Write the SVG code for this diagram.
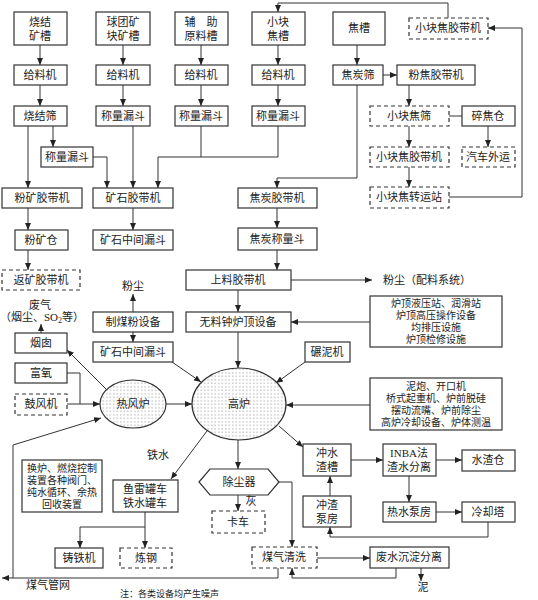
<svg xmlns="http://www.w3.org/2000/svg" width="538" height="600" viewBox="0 0 538 600">
<style>
.b{fill:#fff;stroke:#333;stroke-width:1.2}
.d{fill:#fff;stroke:#333;stroke-width:1.2;stroke-dasharray:4 3}
text{font-family:"Liberation Serif","Noto Sans CJK SC",serif;font-size:11px;fill:#222;text-anchor:middle}
.m{font-size:10px}
.s{font-size:9px;text-anchor:start}
.l{text-anchor:start}
.c path{fill:none;stroke:#333;stroke-width:1}
.c .a{marker-end:url(#ar)}
</style>
<defs>
<marker id="ar" markerWidth="7" markerHeight="6" refX="7" refY="3" orient="auto" markerUnits="userSpaceOnUse"><path d="M0,0 L7,3 L0,6 z" fill="#222"/></marker>
<pattern id="dots" width="3.5" height="3.5" patternUnits="userSpaceOnUse"><rect width="3.5" height="3.5" fill="#fff"/><circle cx="1.75" cy="1.75" r="0.5" fill="#444"/></pattern>
</defs>
<rect width="538" height="600" fill="#fff"/>
<g class="c">
<path class="a" d="M40 45V65"/><path class="a" d="M40 85V106"/>
<path class="a" d="M123 45V65"/><path class="a" d="M123 85V106"/>
<path class="a" d="M201 45V65"/><path class="a" d="M201 85V106"/>
<path class="a" d="M278 45V65"/><path class="a" d="M278 85V106"/>
<path class="a" d="M357 45V65"/>
<path class="a" d="M383 75H397"/>
<path class="a" d="M409 85V106"/>
<path d="M449 116H462"/>
<path class="a" d="M488 126V147"/>
<path class="a" d="M409 126V147"/>
<path class="a" d="M409 167V187"/>
<path class="a" d="M449 197H522V28H488"/>
<path class="a" d="M448 18V3H278V12"/>
<path class="a" d="M28 126V188"/>
<path class="a" d="M53 126V147"/>
<path class="a" d="M93 157H107V188"/>
<path class="a" d="M133 126V188"/>
<path d="M201 126V157"/>
<path class="a" d="M278 126V157H158V188"/>
<path class="a" d="M133 208V230"/>
<path class="a" d="M28 208V230"/>
<path class="a" d="M28 250V270"/>
<path class="a" d="M357 85V178H277V188"/>
<path class="a" d="M277 208V228"/>
<path class="a" d="M277 250V270"/>
<path class="a" d="M291 280H372"/>
<path class="a" d="M238 290V312"/>
<path class="a" d="M370 322H291"/>
<path class="a" d="M238 332V368"/>
<path class="a" d="M305 362L276 383"/>
<path class="a" d="M370 405H286"/>
<path class="a" d="M133 312V294"/>
<path class="a" d="M133 332V342"/>
<path class="a" d="M172 362L201 382"/>
<path class="a" d="M166 404H192"/>
<path class="a" d="M107 390L67 350"/>
<path class="a" d="M41 333V324"/>
<path d="M67 373H80V404"/>
<path class="a" d="M67 404H100"/>
<path class="a" d="M13 578V445L101 418"/>
<path class="a" d="M207 431L171 479"/>
<path class="a" d="M279 426L303 447"/>
<path class="a" d="M238 440V469"/>
<path class="a" d="M238 495V511"/>
<path class="a" d="M278 482H292V547"/>
<path class="a" d="M278 568V578H2"/>
<path class="a" d="M317 558H370"/>
<path class="a" d="M396 568V578H292V568"/>
<path class="a" d="M421 568V581"/>
<path class="a" d="M351 460H383"/>
<path class="a" d="M436 460H462"/>
<path class="a" d="M409 476V502"/>
<path class="a" d="M436 512H462"/>
<path class="a" d="M488 522V537H330V527"/>
<path class="a" d="M330 496V476"/>
<path class="a" d="M145 512V548"/>
<path class="a" d="M145 527H80V548"/>
</g>
<g id="n_sjkc"><rect class="b" x="14" y="12" width="53" height="33"/><text x="40" y="26">烧结</text><text x="40" y="40">矿槽</text></g>
<g id="n_qtk"><rect class="b" x="96" y="12" width="54" height="33"/><text x="123" y="26">球团矿</text><text x="123" y="40">块矿槽</text></g>
<g id="n_fzyl"><rect class="b" x="175" y="12" width="53" height="33"/><text x="201" y="26">辅　助</text><text x="201" y="40">原料槽</text></g>
<g id="n_xkjc"><rect class="b" x="252" y="12" width="53" height="33"/><text x="278" y="26">小块</text><text x="278" y="40">焦槽</text></g>
<g id="n_jc"><rect class="b" x="333" y="12" width="52" height="33"/><text x="359" y="32">焦槽</text></g>
<g id="n_xkjjdj1"><rect class="d" x="409" y="18" width="79" height="21"/><text x="448" y="32">小块焦胶带机</text></g>
<g id="n_glj1"><rect class="b" x="14" y="65" width="53" height="20"/><text x="40" y="79">给料机</text></g>
<g id="n_glj2"><rect class="b" x="96" y="65" width="54" height="20"/><text x="123" y="79">给料机</text></g>
<g id="n_glj3"><rect class="b" x="175" y="65" width="53" height="20"/><text x="201" y="79">给料机</text></g>
<g id="n_glj4"><rect class="b" x="252" y="65" width="53" height="20"/><text x="278" y="79">给料机</text></g>
<g id="n_jts"><rect class="b" x="333" y="65" width="50" height="20"/><text x="358" y="79">焦炭筛</text></g>
<g id="n_fjjdj"><rect class="b" x="397" y="65" width="78" height="20"/><text x="436" y="79">粉焦胶带机</text></g>
<g id="n_sjs"><rect class="b" x="14" y="106" width="53" height="20"/><text x="40" y="120">烧结筛</text></g>
<g id="n_clld2"><rect class="b" x="96" y="106" width="54" height="20"/><text x="123" y="120">称量漏斗</text></g>
<g id="n_clld3"><rect class="b" x="175" y="106" width="53" height="20"/><text x="201" y="120">称量漏斗</text></g>
<g id="n_clld4"><rect class="b" x="252" y="106" width="53" height="20"/><text x="278" y="120">称量漏斗</text></g>
<g id="n_xkjs"><rect class="d" x="370" y="106" width="79" height="20"/><text x="409" y="120">小块焦筛</text></g>
<g id="n_sjc"><rect class="b" x="462" y="106" width="53" height="20"/><text x="488" y="120">碎焦仓</text></g>
<g id="n_clld1"><rect class="b" x="41" y="147" width="52" height="20"/><text x="67" y="161">称量漏斗</text></g>
<g id="n_xkjjdj2"><rect class="d" x="370" y="147" width="79" height="20"/><text x="409" y="161">小块焦胶带机</text></g>
<g id="n_qcwy"><rect class="d" x="462" y="147" width="53" height="20"/><text x="488" y="161">汽车外运</text></g>
<g id="n_xkjzyz"><rect class="d" x="370" y="187" width="79" height="21"/><text x="409" y="201">小块焦转运站</text></g>
<g id="n_fkjdj"><rect class="b" x="2" y="188" width="80" height="20"/><text x="42" y="202">粉矿胶带机</text></g>
<g id="n_ksjdj"><rect class="b" x="93" y="188" width="80" height="20"/><text x="133" y="202">矿石胶带机</text></g>
<g id="n_jtjdj"><rect class="b" x="238" y="188" width="79" height="20"/><text x="277" y="202">焦炭胶带机</text></g>
<g id="n_fkc"><rect class="b" x="15" y="230" width="53" height="20"/><text x="41" y="244">粉矿仓</text></g>
<g id="n_kszjld1"><rect class="b" x="93" y="230" width="80" height="20"/><text x="133" y="244">矿石中间漏斗</text></g>
<g id="n_jtcld"><rect class="b" x="238" y="228" width="79" height="22"/><text x="277" y="243">焦炭称量斗</text></g>
<g id="n_fkjdj2"><rect class="d" x="2" y="270" width="78" height="20"/><text x="41" y="284">返矿胶带机</text></g>
<g id="n_sljdj"><rect class="b" x="186" y="270" width="105" height="20"/><text x="238" y="284">上料胶带机</text></g>
<g id="t_fc1"><text class="l" x="383" y="284">粉尘（配料系统）</text></g>
<g id="t_fc2"><text x="133" y="290">粉尘</text></g>
<g id="t_fq"><text x="40" y="309">废气</text><text x="42" y="321">（烟尘、SO<tspan font-size="8" dy="2">2</tspan><tspan dy="-2">等）</tspan></text></g>
<g id="n_zmf"><rect class="b" x="93" y="312" width="80" height="20"/><text x="133" y="326">制煤粉设备</text></g>
<g id="n_wlz"><rect class="b" x="186" y="312" width="105" height="20"/><text x="238" y="326">无料钟炉顶设备</text></g>
<g id="n_ldyy"><rect class="b" x="370" y="296" width="132" height="51"/><text class="m" x="436" y="307">炉顶液压站、润滑站</text><text class="m" x="436" y="319">炉顶高压操作设备</text><text class="m" x="436" y="331">均排压设施</text><text class="m" x="436" y="343">炉顶检修设施</text></g>
<g id="n_yc"><rect class="b" x="15" y="333" width="52" height="20"/><text x="41" y="347">烟囱</text></g>
<g id="n_kszjld2"><rect class="b" x="93" y="342" width="80" height="20"/><text x="133" y="356">矿石中间漏斗</text></g>
<g id="n_nnj"><rect class="b" x="305" y="342" width="45" height="20"/><text x="327" y="356">碾泥机</text></g>
<g id="n_fy"><rect class="b" x="15" y="363" width="52" height="20"/><text x="41" y="377">富氧</text></g>
<g id="n_np"><rect class="b" x="370" y="378" width="132" height="52"/><text class="m" x="436" y="390">泥炮、开口机</text><text class="m" x="436" y="402">桥式起重机、炉前脱硅</text><text class="m" x="436" y="414">摆动流嘴、炉前除尘</text><text class="m" x="436" y="426">高炉冷却设备、炉体测温</text></g>
<g id="n_gfj"><rect class="d" x="15" y="394" width="52" height="21"/><text x="41" y="408">鼓风机</text></g>
<g id="n_rfl"><ellipse cx="133" cy="404" rx="33" ry="24" fill="url(#dots)" stroke="#333" stroke-width="1.2"/><text x="133" y="408">热风炉</text></g>
<g id="n_gl"><ellipse cx="239" cy="404" rx="47" ry="36" fill="url(#dots)" stroke="#333" stroke-width="1.2"/><text x="239" y="408">高炉</text></g>
<g id="t_ts"><text x="158" y="459">铁水</text></g>
<g id="n_csc"><rect class="b" x="303" y="444" width="48" height="32"/><text x="327" y="457">冲水</text><text x="327" y="471">渣槽</text></g>
<g id="n_inba"><rect class="b" x="383" y="444" width="53" height="32"/><text x="409" y="457">INBA法</text><text x="409" y="471">渣水分离</text></g>
<g id="n_szc"><rect class="b" x="462" y="450" width="53" height="21"/><text x="488" y="464">水渣仓</text></g>
<g id="n_hl"><rect class="b" x="22" y="460" width="80" height="52"/><text class="m" x="62" y="472">换炉、燃烧控制</text><text class="m" x="62" y="484">装置各种阀门、</text><text class="m" x="62" y="496">纯水循环、余热</text><text class="m" x="62" y="508">回收装置</text></g>
<g id="n_ylgc"><rect class="b" x="113" y="480" width="65" height="32"/><text x="145" y="493">鱼雷罐车</text><text x="145" y="507">铁水罐车</text></g>
<g id="n_ccq"><polygon class="b" points="199,482 210,469 268,469 279,482 268,495 210,495"/><text x="239" y="486">除尘器</text></g>
<g id="n_czbf"><rect class="b" x="303" y="496" width="48" height="31"/><text x="327" y="509">冲渣</text><text x="327" y="523">泵房</text></g>
<g id="n_rsbf"><rect class="b" x="383" y="502" width="53" height="20"/><text x="409" y="516">热水泵房</text></g>
<g id="n_lqt"><rect class="b" x="462" y="502" width="53" height="20"/><text x="488" y="516">冷却塔</text></g>
<g id="t_h"><text x="251" y="505">灰</text></g>
<g id="n_kc"><rect class="d" x="212" y="511" width="53" height="22"/><text x="238" y="526">卡车</text></g>
<g id="n_ztj"><rect class="b" x="55" y="548" width="48" height="20"/><text x="79" y="562">铸铁机</text></g>
<g id="n_lg"><rect class="d" x="120" y="548" width="52" height="20"/><text x="146" y="562">炼钢</text></g>
<g id="n_mqqx"><rect class="d" x="252" y="547" width="65" height="21"/><text x="284" y="561">煤气清洗</text></g>
<g id="n_fscd"><rect class="b" x="370" y="547" width="79" height="21"/><text x="409" y="561">废水沉淀分离</text></g>
<g id="t_mqgw"><text x="48" y="589">煤气管网</text></g>
<g id="t_n"><text x="423" y="591">泥</text></g>
<g id="t_note"><text class="s" x="120" y="597">注：各类设备均产生噪声</text></g>
</svg>
